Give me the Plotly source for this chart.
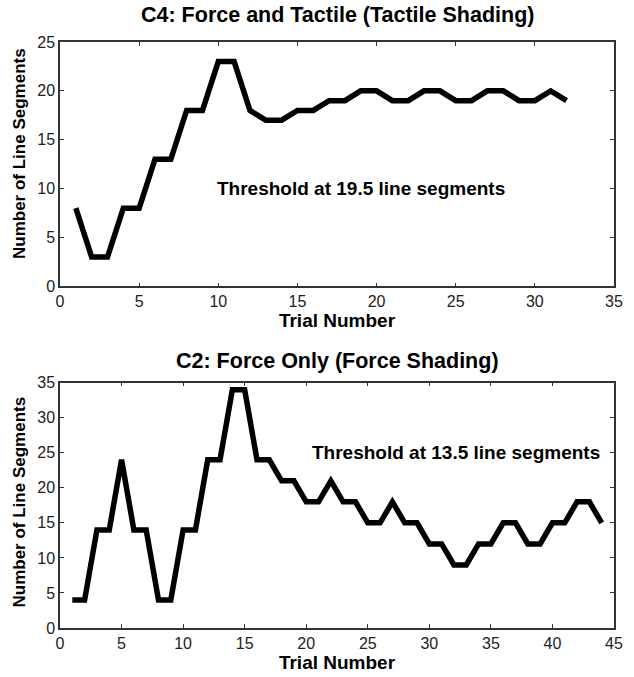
import plotly.graph_objects as go

trial_c4 = list(range(1, 33))
segments_c4 = [8, 3, 3, 8, 8, 13, 13, 18, 18, 23, 23, 18, 17, 17, 18, 18,
               19, 19, 20, 20, 19, 19, 20, 20, 19, 19, 20, 20, 19, 19, 20, 19]

trial_c2 = list(range(1, 45))
segments_c2 = [4, 4, 14, 14, 24, 14, 14, 4, 4, 14, 14, 24, 24, 34, 34, 24,
               24, 21, 21, 18, 18, 21, 18, 18, 15, 15, 18, 15, 15, 12, 12, 9,
               9, 12, 12, 15, 15, 12, 12, 15, 15, 18, 18, 15]

title_c4 = "C4: Force and Tactile (Tactile Shading)"
title_c2 = "C2: Force Only (Force Shading)"
note_c4 = "Threshold at 19.5 line segments"
note_c2 = "Threshold at 13.5 line segments"
xlabel = "Trial Number"
ylabel = "Number of Line Segments"

FONT = "Liberation Sans, Arial, sans-serif"

fig = go.Figure()
fig.add_trace(go.Scatter(x=trial_c4, y=segments_c4, mode="lines",
                         line=dict(color="black", width=5.5), xaxis="x", yaxis="y"))
fig.add_trace(go.Scatter(x=trial_c2, y=segments_c2, mode="lines",
                         line=dict(color="black", width=5.5), xaxis="x2", yaxis="y2"))

axis_common = dict(showline=True, linecolor="#333", linewidth=1.5, mirror="ticks",
                   ticks="inside", ticklen=4, tickcolor="#333", showgrid=False,
                   zeroline=False, tickfont=dict(family=FONT, size=16, color="#222"))
xtitle_font = dict(family=FONT, size=19, color="black")

fig.update_layout(
    width=634, height=677,
    margin=dict(l=60, r=11, t=42, b=45),
    paper_bgcolor="white", plot_bgcolor="white",
    showlegend=False,
    xaxis=dict(domain=[0, 1], range=[0, 35], dtick=5, anchor="y",
               title=dict(text="<b>" + xlabel + "</b>", font=xtitle_font, standoff=4),
               **axis_common),
    yaxis=dict(domain=[0.583, 1], range=[0, 25], dtick=5, anchor="x", **axis_common),
    xaxis2=dict(domain=[0, 1], range=[0, 45], dtick=5, anchor="y2",
                title=dict(text="<b>" + xlabel + "</b>", font=xtitle_font, standoff=1),
                **axis_common),
    yaxis2=dict(domain=[0, 0.4186], range=[0, 35], dtick=5, anchor="x2", **axis_common),
    annotations=[
        dict(text="<b>" + title_c4 + "</b>", x=0.5, y=1.0458, xref="paper", yref="paper",
             xanchor="center", yanchor="middle", showarrow=False,
             font=dict(family=FONT, size=21.5, color="black")),
        dict(text="<b>" + title_c2 + "</b>", x=0.5, y=0.4559, xref="paper", yref="paper",
             xanchor="center", yanchor="middle", showarrow=False,
             font=dict(family=FONT, size=21.5, color="black")),
        dict(text="<b>" + ylabel + "</b>", x=-0.0728, y=0.810, xref="paper", yref="paper",
             xanchor="center", yanchor="middle", textangle=-90, showarrow=False,
             font=dict(family=FONT, size=17, color="black")),
        dict(text="<b>" + ylabel + "</b>", x=-0.0728, y=0.2153, xref="paper", yref="paper",
             xanchor="center", yanchor="middle", textangle=-90, showarrow=False,
             font=dict(family=FONT, size=17, color="black")),
        dict(text="<b>" + note_c4 + "</b>", x=19, y=10, xref="x", yref="y",
             showarrow=False, font=dict(family=FONT, size=19, color="black")),
        dict(text="<b>" + note_c2 + "</b>", x=32.2, y=25, xref="x2", yref="y2",
             showarrow=False, font=dict(family=FONT, size=19, color="black")),
    ],
)

fig.write_html("out.html")
